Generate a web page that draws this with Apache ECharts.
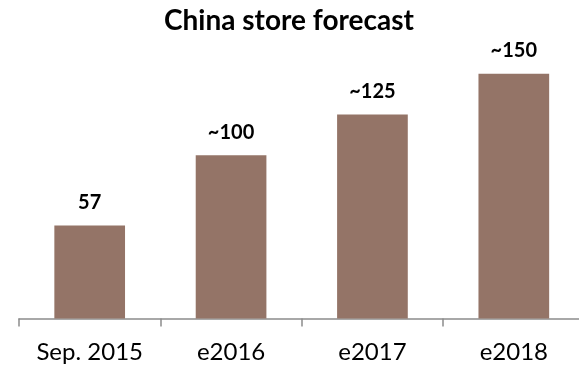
<!DOCTYPE html>
<html>
<head>
<meta charset="utf-8">
<script src="https://cdn.jsdelivr.net/npm/echarts@6/dist/echarts.min.js"></script>
<style>
  html, body { margin: 0; padding: 0; background: #fff; }
  #chart { width: 579px; height: 367px; }
</style>
</head>
<body>
<div id="chart"></div>
<script>
// Store counts: current figure and estimates
const categories = ['Sep. 2015', 'e2016', 'e2017', 'e2018'];
const storeCounts = [57, 100, 125, 150];
const valueLabels = ['57', '~100', '~125', '~150'];

const chart = echarts.init(document.getElementById('chart'), null, { renderer: 'canvas' });

chart.setOption({
  animation: false,
  title: {
    text: 'China store forecast',
    left: 284,
    textAlign: 'center',
    top: 2,
    textStyle: {
      fontFamily: 'Lato',
      fontWeight: 'bold',
      fontSize: 28,
      color: '#000'
    }
  },
  // the plot runs a little past the right edge, so the last tick is cut off
  grid: {
    left: 19, width: 565.5, top: 41, bottom: 48.5,
    containLabel: false,
    outerBoundsMode: 'none'
  },
  xAxis: {
    type: 'category',
    data: categories,
    axisLine: { lineStyle: { color: '#8c8c8c', width: 1.5 } },
    axisTick: { show: true, length: 8, lineStyle: { color: '#8c8c8c', width: 1.5 } },
    axisLabel: {
      fontFamily: 'Lato',
      fontSize: 24,
      color: '#000',
      margin: 22
    }
  },
  yAxis: {
    type: 'value',
    min: 0,
    max: 170,
    show: false
  },
  series: [{
    type: 'bar',
    data: storeCounts,
    barWidth: '50%',
    itemStyle: { color: '#947467' },
    label: {
      show: true,
      position: 'top',
      distance: 13,
      fontFamily: 'Lato',
      fontWeight: 'bold',
      fontSize: 20,
      color: '#000',
      formatter: p => valueLabels[p.dataIndex]
    }
  }]
});
</script>
</body>
</html>
